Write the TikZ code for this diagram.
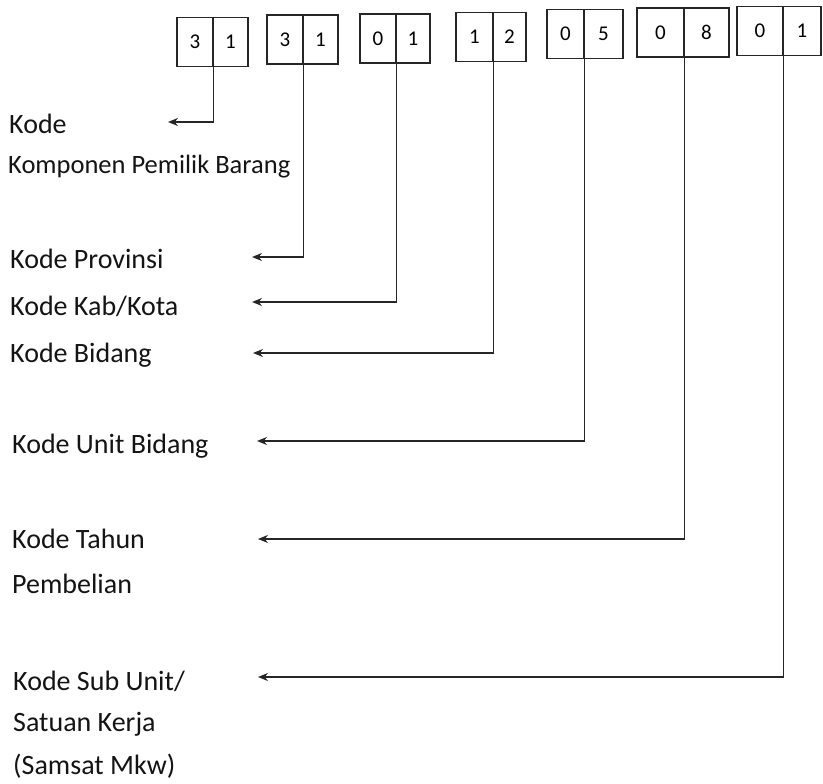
\documentclass[tikz,border=0pt]{standalone}
\usepackage{fontspec}
\setmainfont{Carlito}
\usetikzlibrary{arrows.meta}
\begin{document}
\begin{tikzpicture}[x=1pt,y=-1pt,
  cell/.style={draw=black!85, line width=1.3pt, minimum height=49pt, inner sep=0pt, font=\fontsize{21}{23}\selectfont},
  lbl/.style={anchor=mid west, inner sep=0pt, text=black!92, font=\fontsize{28}{30}\selectfont},
  conn/.style={draw=black!85, line width=1.4pt, -{Stealth[length=10pt,width=8pt]}}]
\useasboundingbox[fill=white] (0,0) rectangle (823,784);
% boxes
\node[cell, minimum width=36pt] (c1a) at (195,42) {3};
\node[cell, minimum width=35pt] (c1b) at (230.5,42) {1};
\node[cell, minimum width=36pt] (c2a) at (285,39.5) {3};
\node[cell, minimum width=35pt] (c2b) at (320.5,39.5) {1};
\node[cell, minimum width=36pt] (c3a) at (378,38.5) {0};
\node[cell, minimum width=34pt] (c3b) at (413,38.5) {1};
\node[cell, minimum width=37pt] (c4a) at (474.5,37) {1};
\node[cell, minimum width=33pt] (c4b) at (509.5,37) {2};
\node[cell, minimum width=37pt] (c5a) at (565.5,34) {0};
\node[cell, minimum width=39pt] (c5b) at (603.5,34) {5};
\node[cell, minimum width=47pt] (c6a) at (660.5,32.5) {0};
\node[cell, minimum width=45pt] (c6b) at (706.5,32.5) {8};
\node[cell, minimum width=46pt] (c7a) at (760,31) {0};
\node[cell, minimum width=38pt] (c7b) at (802,31) {1};
% labels
\node[lbl] (l1) at (9,131) {Kode};
\node[lbl, font=\fontsize{26.5}{30}\selectfont] (l1b) at (8,171) {Komponen Pemilik Barang};
\node[lbl] (l2) at (10,266) {Kode Provinsi};
\node[lbl] (l3) at (10,313) {Kode Kab/Kota};
\node[lbl] (l4) at (10,360) {Kode Bidang};
\node[lbl] (l5) at (12,451) {Kode Unit Bidang};
\node[lbl] (l6) at (12,546) {Kode Tahun};
\node[lbl] (l6b) at (12,591) {Pembelian};
\node[lbl] (l7) at (13,688) {Kode Sub Unit/};
\node[lbl] (l7b) at (13,729) {Satuan Kerja};
\node[lbl] (l7c) at (13,772) {(Samsat Mkw)};
% arrow tips
\coordinate (t1) at (168,122);
\coordinate (t2) at (252,257);
\coordinate (t3) at (252,302);
\coordinate (t4) at (253,353);
\coordinate (t5) at (257,441);
\coordinate (t6) at (258,539);
\coordinate (t7) at (258,677);
% connectors
\draw[conn] (c1a.south east) |- (t1);
\draw[conn] (c2a.south east) |- (t2);
\draw[conn] (c3a.south east) |- (t3);
\draw[conn] (c4a.south east) |- (t4);
\draw[conn] (c5a.south east) |- (t5);
\draw[conn] (c6a.south east) |- (t6);
\draw[conn] (c7a.south east) |- (t7);
\end{tikzpicture}
\end{document}
